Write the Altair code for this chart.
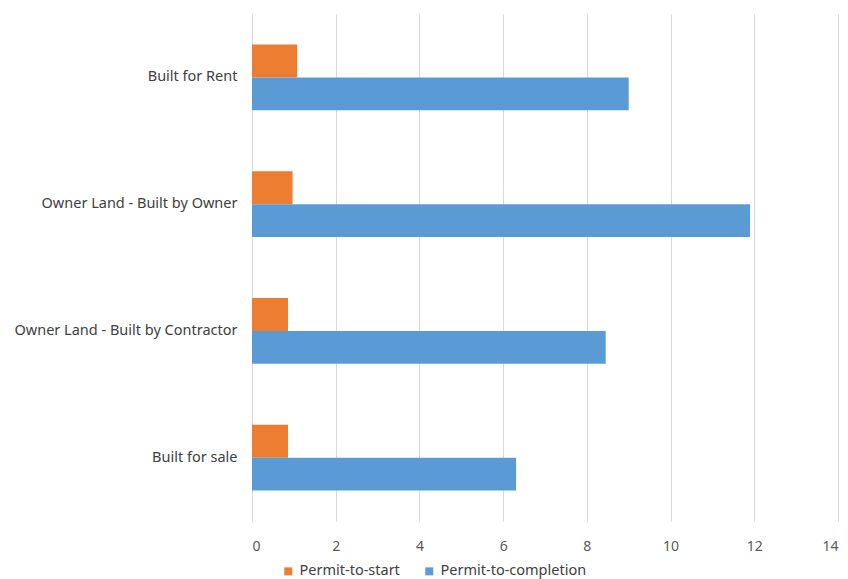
import altair as alt
import pandas as pd

categories = ["Built for Rent", "Owner Land - Built by Owner",
              "Owner Land - Built by Contractor", "Built for sale"]
series = ["Permit-to-start", "Permit-to-completion"]
permit_to_start = [1.08, 0.97, 0.86, 0.86]
permit_to_completion = [9.0, 11.9, 8.45, 6.31]
x_ticks = [0, 2, 4, 6, 8, 10, 12, 14]
colors = ["#ED7D31", "#5B9BD5"]

rows = []
for c, s, p in zip(categories, permit_to_start, permit_to_completion):
    rows.append({"category": c, "series": series[0], "value": s})
    rows.append({"category": c, "series": series[1], "value": p})
df = pd.DataFrame(rows)

font = "Noto Sans"

chart = alt.Chart(df).mark_bar().encode(
    y=alt.Y("category:N", sort=categories, title=None,
            scale=alt.Scale(paddingInner=0.48, paddingOuter=0.24),
            axis=alt.Axis(ticks=False, domain=False, labelPadding=15,
                          labelFontSize=14.5, labelColor="#404040",
                          labelFont=font, grid=False, labelLimit=300)),
    yOffset=alt.YOffset("series:N", sort=series),
    x=alt.X("value:Q", title=None,
            scale=alt.Scale(domain=[0, 14], nice=False),
            axis=alt.Axis(values=x_ticks, ticks=False, domain=False,
                          grid=True, gridColor="#d9d9d9", labelPadding=18,
                          labelFontSize=14, labelColor="#595959",
                          labelFont=font, format="d")),
    color=alt.Color("series:N", sort=series, title=None,
                    scale=alt.Scale(domain=series, range=colors),
                    legend=alt.Legend(orient="none", direction="horizontal",
                                      legendX=29, legendY=550,
                                      symbolType="square", symbolSize=64,
                                      symbolStrokeWidth=0,
                                      labelFontSize=14.5, labelColor="#404040",
                                      labelFont=font, columnPadding=22)),
).properties(
    width=586,
    height=507,
    autosize=alt.AutoSizeParams(type="none"),
    padding={"left": 244, "top": 6, "right": 2, "bottom": 66},
).configure_view(stroke=None)

chart.save("out.html", embed_options={"renderer": "svg", "actions": False})
